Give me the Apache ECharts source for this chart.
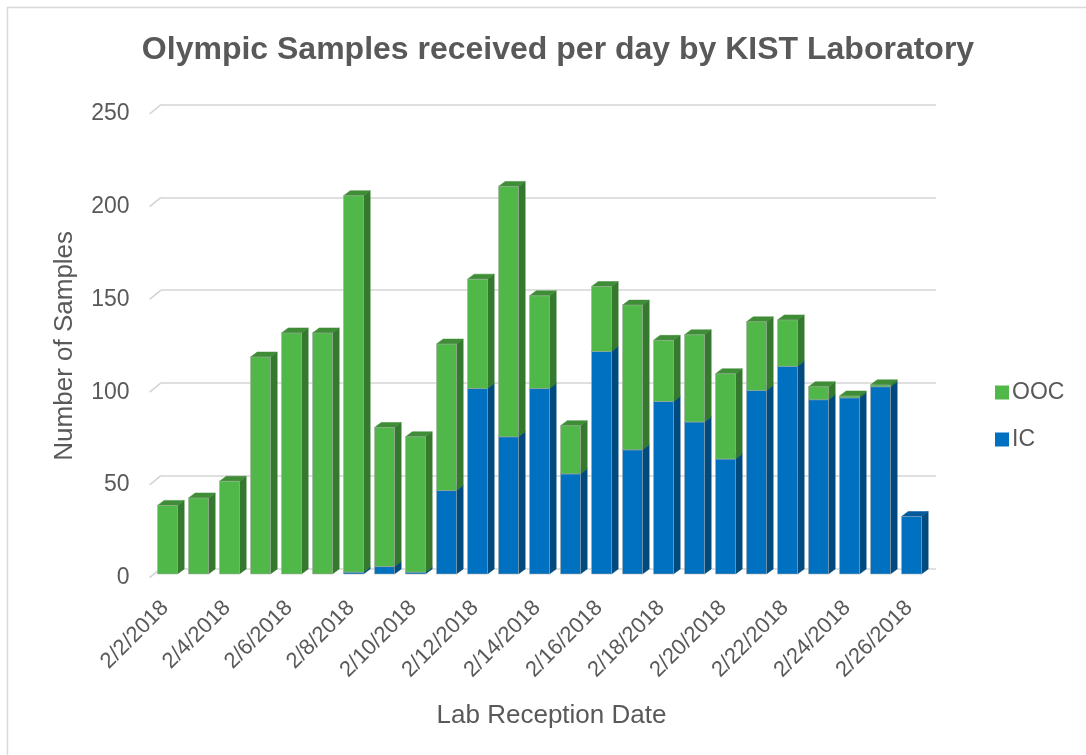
<!DOCTYPE html>
<html>
<head>
<meta charset="utf-8">
<script src="https://cdn.jsdelivr.net/npm/echarts@6/dist/echarts.min.js"></script>
<style>
html,body{margin:0;padding:0;background:#fff;}
#main{width:1086px;height:755px;}
</style>
</head>
<body>
<div id="main"></div>
<script>
// ---- data ----
const dates = ['2/2/2018','2/3/2018','2/4/2018','2/5/2018','2/6/2018','2/7/2018','2/8/2018','2/9/2018','2/10/2018','2/11/2018','2/12/2018','2/13/2018','2/14/2018','2/15/2018','2/16/2018','2/17/2018','2/18/2018','2/19/2018','2/20/2018','2/21/2018','2/22/2018','2/23/2018','2/24/2018','2/25/2018','2/26/2018'];
const icValues  = [0,0,0,0,0,0,1,4,1,45,100,74,100,54,120,67,93,82,62,99,112,94,95,101,31];
const oocValues = [37,41,50,117,130,130,203,75,73,79,59,135,50,26,35,78,33,47,46,37,25,7,1,1,0];
const yTicks = [0,50,100,150,200,250];

// ---- styling ----
const TEXT = '#595959';
const FONT = '"Liberation Sans", Arial, sans-serif';
const GRID_COLOR = '#d4d4d4';
// 3D offsets (px)
const FRONT_DX = -9, FRONT_DY = 5.7;   // bar front face vs back wall
const DEPTH_X = 6.7, DEPTH_Y = -5;      // bar depth
const BAR_W = 20;
const FLOOR_DX = -11.4, FLOOR_DY = 9.3; // front plane vs back wall

function makeBarRenderer(front, side, top) {
  return function (params, api) {
    const idx = api.value(0), base = api.value(1), end = api.value(2);
    if (end <= base) return null;
    const p0 = api.coord([idx, base]);
    const p1 = api.coord([idx, end]);
    const x = p0[0] + FRONT_DX - BAR_W / 2;
    const yb = p0[1] + FRONT_DY;
    const yt = p1[1] + FRONT_DY;
    const xr = x + BAR_W;
    return {
      type: 'group',
      children: [
        { type: 'polygon', shape: { points: [[xr, yb], [xr + DEPTH_X, yb + DEPTH_Y], [xr + DEPTH_X, yt + DEPTH_Y], [xr, yt]] },
          style: { fill: side, stroke: side, lineWidth: 0.5 } },
        { type: 'polygon', shape: { points: [[x, yt], [xr, yt], [xr + DEPTH_X, yt + DEPTH_Y], [x + DEPTH_X, yt + DEPTH_Y]] },
          style: { fill: top, stroke: top, lineWidth: 0.5 } },
        { type: 'rect', shape: { x: x, y: yt, width: BAR_W, height: yb - yt },
          style: { fill: front, stroke: 'rgba(170,170,170,0.7)', lineWidth: 0.8 } }
      ]
    };
  };
}

const icData = icValues.map((v, i) => [i, 0, v]);
const oocData = oocValues.map((v, i) => [i, icValues[i], icValues[i] + v]);

const chart = echarts.init(document.getElementById('main'), null, { renderer: 'canvas' });
chart.setOption({
  backgroundColor: '#fff',
  animation: false,
  textStyle: { fontFamily: FONT },
  graphic: [{
    type: 'rect', shape: { x: 7.5, y: 7.5, width: 1200, height: 1000 },
    style: { fill: 'none', stroke: '#d9d9d9', lineWidth: 1.5 }, silent: true, z: -10
  }],
  title: {
    text: 'Olympic Samples received per day by KIST Laboratory',
    left: 553, top: 29, textAlign: 'center',
    textStyle: { fontFamily: FONT, fontSize: 32, fontWeight: 'bold', color: TEXT }
  },
  legend: {
    orient: 'vertical', left: 990, top: 376,
    itemWidth: 14, itemHeight: 14, itemGap: 24,
    icon: 'rect',
    data: ['OOC', 'IC'],
    textStyle: { fontFamily: FONT, fontSize: 23, color: TEXT, padding: [0, 0, 0, -2] }
  },
  grid: [
    { left: 161, right: 150, top: 104.7, bottom: 186.7 },
    { left: 161 + FLOOR_DX, right: 150 - FLOOR_DX, top: 104.7 + FLOOR_DY, bottom: 186.7 - FLOOR_DY }
  ],
  xAxis: [
    { type: 'category', gridIndex: 0, data: dates,
      axisLine: { show: false }, axisTick: { show: false }, axisLabel: { show: false },
      name: 'Lab Reception Date', nameLocation: 'middle', nameGap: 135,
      nameTextStyle: { fontFamily: FONT, fontSize: 26, color: TEXT, padding: [0, 0, 0, 6] } },
    { type: 'category', gridIndex: 1, data: dates,
      axisLine: { show: false }, axisTick: { show: false },
      axisLabel: { interval: 1, rotate: 45, margin: 27, fontSize: 22, color: TEXT, fontFamily: FONT } }
  ],
  yAxis: [
    { type: 'value', gridIndex: 0, min: 0, max: 250, interval: 50,
      axisLine: { show: false }, axisTick: { show: false }, axisLabel: { show: false },
      splitLine: { lineStyle: { color: GRID_COLOR, width: 1.6 } } },
    { type: 'value', gridIndex: 1, min: 0, max: 250, interval: 50,
      axisLine: { show: false }, axisTick: { show: false }, splitLine: { show: false },
      axisLabel: { margin: 20, fontSize: 23, color: TEXT, fontFamily: FONT },
      name: 'Number of Samples', nameLocation: 'middle', nameGap: 72,
      nameTextStyle: { fontFamily: FONT, fontSize: 26, color: TEXT } }
  ],
  series: [
    { type: 'custom', name: 'gridStubs', xAxisIndex: 0, yAxisIndex: 0, silent: true,
      data: yTicks.map(v => [0, v]),
      renderItem: function (params, api) {
        const y = api.coord([0, api.value(1)])[1];
        const x = params.coordSys.x;
        return { type: 'line', shape: { x1: x + FLOOR_DX, y1: y + FLOOR_DY, x2: x, y2: y },
                 style: { stroke: GRID_COLOR, lineWidth: 1.6 } };
      } },
    { type: 'custom', name: 'IC', xAxisIndex: 0, yAxisIndex: 0,
      itemStyle: { color: '#0070c0' },
      encode: { x: 0, y: [1, 2] },
      data: icData,
      renderItem: makeBarRenderer('#0070c0', '#004a7e', '#005a9c') },
    { type: 'custom', name: 'OOC', xAxisIndex: 0, yAxisIndex: 0,
      itemStyle: { color: '#50b848' },
      encode: { x: 0, y: [1, 2] },
      data: oocData,
      renderItem: makeBarRenderer('#50b848', '#35792e', '#3f8d37') }
  ]
});
</script>
</body>
</html>
